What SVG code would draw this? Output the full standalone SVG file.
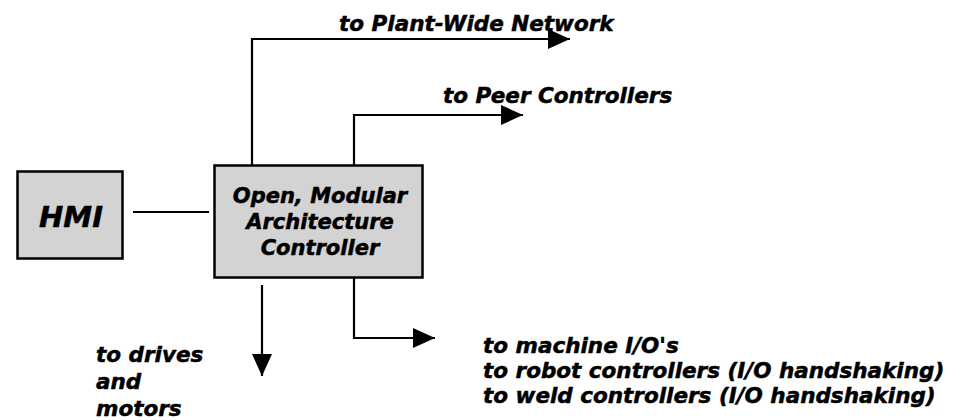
<svg xmlns="http://www.w3.org/2000/svg" width="953" height="420" viewBox="0 0 953 420">
<defs>
<style>
.box{fill:#d3d3d3;stroke:#000;stroke-width:2.5}
.t{font-family:"DejaVu Sans",Verdana,sans-serif;font-weight:bold;font-style:italic;fill:#000;stroke:#000;stroke-width:0.5}
.c{fill:none;stroke:#000;stroke-width:2.2}
</style>
<marker id="ah" viewBox="0 0 22 20" refX="22" refY="10" markerWidth="22" markerHeight="20" markerUnits="userSpaceOnUse" orient="auto">
<path d="M0,0 L22,10 L0,20 Z" fill="#000"/>
</marker>
</defs>
<rect width="953" height="420" fill="#fff"/>
<g id="hmi">
<rect class="box" x="17.5" y="171.5" width="105" height="87"/>
<text class="t" x="71" y="227" font-size="29" text-anchor="middle">HMI</text>
</g>
<g id="controller">
<rect class="box" x="214.5" y="165.5" width="208" height="112"/>
<text class="t" font-size="21" text-anchor="middle"><tspan x="320" y="203">Open, Modular</tspan><tspan x="320" y="229">Architecture</tspan><tspan x="320" y="255">Controller</tspan></text>
</g>
<g id="connectors">
<line class="c" x1="133" y1="212" x2="209" y2="212"/>
<path class="c" d="M252,165 V39 H570" marker-end="url(#ah)"/>
<path class="c" d="M354,165 V115 H523" marker-end="url(#ah)"/>
<path class="c" d="M262,285 V376" marker-end="url(#ah)"/>
<path class="c" d="M354,278 V338 H435" marker-end="url(#ah)"/>
</g>
<g id="labels">
<text class="t" x="339" y="31" font-size="21.5">to Plant-Wide Network</text>
<text class="t" x="443" y="103" font-size="21.5">to Peer Controllers</text>
<text class="t" font-size="21.5"><tspan x="96" y="362">to drives</tspan><tspan x="96" y="389">and</tspan><tspan x="96" y="416">motors</tspan></text>
<text class="t" font-size="21.5"><tspan x="483" y="353">to machine I/O's</tspan><tspan x="483" y="378">to robot controllers (I/O handshaking)</tspan><tspan x="483" y="403">to weld controllers (I/O handshaking)</tspan></text>
</g>
</svg>
